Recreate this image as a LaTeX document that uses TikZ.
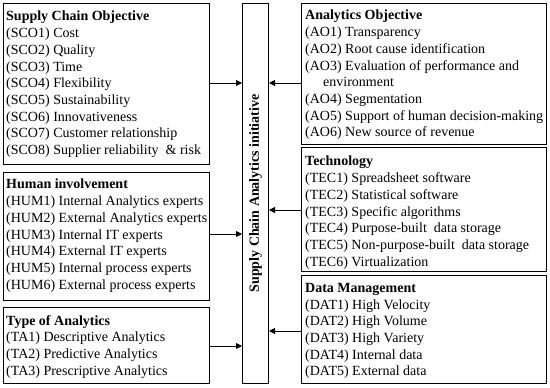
\documentclass[tikz,border=0pt]{standalone}
\usepackage{fontspec}
\setmainfont{Liberation Serif}
\usetikzlibrary{arrows.meta}
\begin{document}
\begin{tikzpicture}[x=1pt,y=-1pt,
  box/.style={draw,line width=1pt,inner sep=0pt,anchor=north west},
  txt/.style={anchor=north west,inner sep=0pt,align=left,font=\fontsize{14}{16.7}\selectfont},
  arr/.style={-{Triangle[length=6pt,width=6pt]},line width=1pt}]
\useasboundingbox (0,0) rectangle (550,388);
% boxes
\node[box,minimum width=206pt,minimum height=161pt] (sco) at (3,3) {};
\node[box,minimum width=206pt,minimum height=128pt] (hum) at (3,172) {};
\node[box,minimum width=206pt,minimum height=76pt] (ta) at (3,307) {};
\node[box,minimum width=26pt,minimum height=380pt] (ctr) at (242,3) {};
\node[box,minimum width=245pt,minimum height=141pt] (ao) at (301,3) {};
\node[box,minimum width=245pt,minimum height=124pt] (tec) at (301,147) {};
\node[box,minimum width=245pt,minimum height=108pt] (dat) at (301,275) {};
% center label
\node[rotate=90,inner sep=0pt,font=\fontsize{14}{16.7}\selectfont\bfseries] (ctrlab) at (ctr.center) {Supply Chain Analytics initiative};
% texts
\node[txt] (scot) at (6,11) {\textbf{Supply Chain Objective}\\
(SCO1) Cost\\
(SCO2) Quality\\
(SCO3) Time\\
(SCO4) Flexibility\\
(SCO5) Sustainability\\
(SCO6) Innovativeness\\
(SCO7) Customer relationship\\
(SCO8) Supplier reliability~ \& risk};
\node[txt] (humt) at (6,179) {\textbf{Human involvement}\\
(HUM1) Internal Analytics experts\\
(HUM2) External Analytics experts\\
(HUM3) Internal IT experts\\
(HUM4) External IT experts\\
(HUM5) Internal process experts\\
(HUM6) External process experts};
\node[txt] (tat) at (6,315) {\textbf{Type of Analytics}\\
(TA1) Descriptive Analytics\\
(TA2) Predictive Analytics\\
(TA3) Prescriptive Analytics};
\node[txt] (aot) at (305,10) {\textbf{Analytics Objective}\\
(AO1) Transparency\\
(AO2) Root cause identification\\
(AO3) Evaluation of performance and\\
\hspace*{18pt}environment\\
(AO4) Segmentation\\
(AO5) Support of human decision-making\\
(AO6) New source of revenue};
\node[txt] (tect) at (305,156) {\textbf{Technology}\\
(TEC1) Spreadsheet software\\
(TEC2) Statistical software\\
(TEC3) Specific algorithms\\
(TEC4) Purpose-built~ data storage\\
(TEC5) Non-purpose-built~ data storage\\
(TEC6) Virtualization};
\node[txt] (datt) at (305,283) {\textbf{Data Management}\\
(DAT1) High Velocity\\
(DAT2) High Volume\\
(DAT3) High Variety\\
(DAT4) Internal data\\
(DAT5) External data};
% arrows
\draw[arr] (sco.east |- 0,83) -- (ctr.west |- 0,83);
\draw[arr] (hum.east |- 0,234) -- (ctr.west |- 0,234);
\draw[arr] (ta.east |- 0,346) -- (ctr.west |- 0,346);
\draw[arr] (ao.west |- 0,83) -- (ctr.east |- 0,83);
\draw[arr] (tec.west |- 0,210) -- (ctr.east |- 0,210);
\draw[arr] (dat.west |- 0,331) -- (ctr.east |- 0,331);
\end{tikzpicture}
\end{document}
